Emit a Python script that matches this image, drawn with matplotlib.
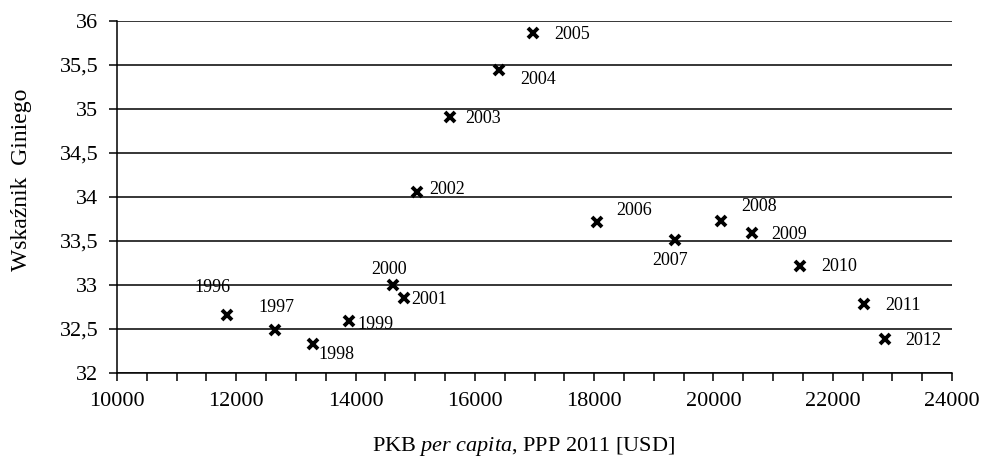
import matplotlib
matplotlib.use("Agg")
import matplotlib.pyplot as plt
from matplotlib.ticker import MultipleLocator, FuncFormatter

years = ["1996", "1997", "1998", "1999", "2000", "2001", "2002", "2003", "2004",
         "2005", "2006", "2007", "2008", "2009", "2010", "2011", "2012"]
gdp = [11840, 12655, 13290, 13895, 14630, 14810, 15025, 15585, 16400,
       16980, 18045, 19360, 20120, 20640, 21450, 22525, 22880]
gini = [32.66, 32.49, 32.33, 32.59, 33.00, 32.85, 34.06, 34.91, 35.44,
        35.86, 33.72, 33.51, 33.73, 33.59, 33.22, 32.78, 32.39]

# label offsets from marker (pixels, x right / y up)
label_offsets = [(-14, 27), (1, 22), (23, -11), (26, -3), (-4, 16), (25, -1),
                 (30, 2), (33, -2), (39, -9), (39, -1), (37, 11), (-5, -20),
                 (38, 14), (38, -1), (39, -1), (39, -1), (38, -2)]

plt.rcParams['font.family'] = ['Liberation Serif', 'DejaVu Serif']
plt.rcParams['mathtext.fontset'] = 'custom'
plt.rcParams['mathtext.rm'] = 'Liberation Serif'
plt.rcParams['mathtext.it'] = 'Liberation Serif:italic'

fig = plt.figure(figsize=(9.83, 4.62), dpi=100)
ax = fig.add_axes([117/983, 1 - 373/462, (952-117)/983, (373-21)/462])

ax.set_xlim(10000, 24000)
ax.set_ylim(32, 36)

ax.yaxis.set_major_locator(MultipleLocator(0.5))
ax.xaxis.set_major_locator(MultipleLocator(2000))
ax.xaxis.set_minor_locator(MultipleLocator(500))
ax.yaxis.set_major_formatter(FuncFormatter(lambda v, p: (f"{v:g}").replace(".", ",")))

ax.grid(axis='y', color='black', linewidth=1.1)
ax.set_axisbelow(True)

for s in ['top', 'right']:
    ax.spines[s].set_visible(False)
for s in ['left', 'bottom']:
    ax.spines[s].set_linewidth(1.1)

ax.tick_params(axis='both', which='both', direction='out', length=5.5, width=1.1,
               labelsize=16, pad=8)
ax.tick_params(axis='x', which='minor', length=5.5, width=1.1)

ax.plot(gdp, gini, linestyle='none', marker='x', markersize=7,
        markeredgewidth=2.8, color='black', zorder=3)

for yr, x, y, off in zip(years, gdp, gini, label_offsets):
    ax.annotate(yr, (x, y), xytext=off, textcoords='offset pixels',
                ha='center', va='center', fontsize=13)

ax.set_ylabel("Wskaźnik  Giniego", fontsize=17)
ax.yaxis.set_label_coords(-95/835, (373-180)/352)
ax.set_xlabel(r"PKB $\mathit{per\ capita}$, PPP 2011 [USD]", fontsize=16)
ax.xaxis.set_label_coords((524-117)/835, -(447-373)/352)
ax.xaxis.label.set_va('center')
ax.yaxis.label.set_va('center')

fig.savefig("out.png", dpi=100)
